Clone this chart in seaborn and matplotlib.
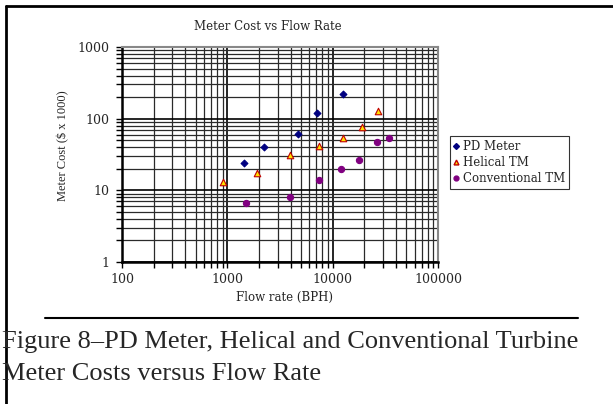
import numpy as np
import pandas as pd
import matplotlib
matplotlib.use("Agg")
from matplotlib import pyplot as plt
from matplotlib.lines import Line2D
import seaborn as sns

# values (flow in BPH, cost in $ x 1000)
pd_flow = [1450, 2250, 4700, 7100, 12500]
pd_cost = [24, 40, 62, 121, 224]

hel_flow = [900, 1900, 3950, 7400, 12500, 19000, 26700]
hel_cost = [13.2, 17.7, 31, 42, 54, 77, 127]

conv_flow = [1500, 3950, 7400, 11900, 17800, 26500, 34500]
conv_cost = [6.7, 8.1, 13.8, 20, 26.6, 47, 54]

series = ["PD Meter", "Helical TM", "Conventional TM"]

df = pd.concat([
    pd.DataFrame({"flow": pd_flow, "cost": pd_cost, "meter": series[0]}),
    pd.DataFrame({"flow": hel_flow, "cost": hel_cost, "meter": series[1]}),
    pd.DataFrame({"flow": conv_flow, "cost": conv_cost, "meter": series[2]}),
])

sns.set_style("white")
plt.rcParams["font.family"] = ["DejaVu Serif"]

fig = plt.figure(figsize=(6.13, 4.04), dpi=100)
ax = fig.add_axes([122 / 613, 1 - 262 / 404, 316 / 613, 215 / 404])

styles = {
    "PD Meter": dict(marker="D", color="#000080", edgecolor="#000080", s=12),
    "Helical TM": dict(marker="^", color="#FFE000", edgecolor="#C00000", s=22),
    "Conventional TM": dict(marker="o", color="#800080", edgecolor="#800080", s=20),
}
for name in series:
    st = styles[name]
    sns.scatterplot(data=df[df["meter"] == name], x="flow", y="cost", ax=ax,
                    marker=st["marker"], color=st["color"], edgecolor=st["edgecolor"],
                    s=st["s"], linewidth=0.8, zorder=5, legend=False)

ax.set_xscale("log")
ax.set_yscale("log")
ax.set_xlim(100, 100000)
ax.set_ylim(1, 1000)

ax.grid(True, which="major", color="black", linewidth=1.2)
ax.grid(True, which="minor", color="#2a2a2a", linewidth=0.9)
ax.set_axisbelow(True)

ax.set_xticks([100, 1000, 10000, 100000])
ax.set_xticklabels(["100", "1000", "10000", "100000"])
ax.set_yticks([1, 10, 100, 1000])
ax.set_yticklabels(["1", "10", "100", "1000"])
ax.tick_params(axis="both", which="both", direction="out", length=4, width=1,
               color="black", labelsize=9, bottom=True, left=True)
ax.tick_params(axis="y", pad=5)
ax.tick_params(axis="x", pad=4)

for side in ["left", "bottom"]:
    ax.spines[side].set_color("black")
    ax.spines[side].set_linewidth(1.8)
for side in ["top", "right"]:
    ax.spines[side].set_color("#888888")
    ax.spines[side].set_linewidth(1.5)

ax.set_xlabel("")
ax.set_ylabel("")
fig.text(284 / 613, 1 - 297 / 404, "Flow rate (BPH)", ha="center", va="center", fontsize=8.5)
fig.text(63 / 613, 1 - 146 / 404, "Meter Cost ($ x 1000)", ha="center", va="center",
         rotation=90, fontsize=9, family="Liberation Serif")
fig.text(268 / 613, 1 - 27 / 404, "Meter Cost vs Flow Rate", ha="center", va="center",
         fontsize=8.5)

handles = [Line2D([], [], linestyle="none", marker=styles[n]["marker"],
                  markerfacecolor=styles[n]["color"], markeredgecolor=styles[n]["edgecolor"],
                  markersize=3.5 if n != "PD Meter" else 3, label=n) for n in series]
leg = fig.legend(handles=handles, loc="upper left", bbox_to_anchor=(450 / 613, 1 - 136 / 404),
                 fontsize=8.5, frameon=True, fancybox=False, handlelength=0.4,
                 handletextpad=0.35, borderpad=0.35, borderaxespad=0, labelspacing=0.25)
leg.get_frame().set_edgecolor("black")
leg.get_frame().set_linewidth(0.8)

# document frame and caption around the chart
fig.add_artist(Line2D([6 / 613, 6 / 613], [0, 1 - 6 / 404], color="black", linewidth=2,
                      transform=fig.transFigure))
fig.add_artist(Line2D([6 / 613, 1], [1 - 6 / 404, 1 - 6 / 404], color="black", linewidth=2,
                      transform=fig.transFigure))
fig.add_artist(Line2D([45 / 613, 578 / 613], [1 - 318 / 404, 1 - 318 / 404], color="black",
                      linewidth=1.5, transform=fig.transFigure))
fig.text(2 / 613, 1 - 348 / 404, "Figure 8\u2013PD Meter, Helical and Conventional Turbine",
         ha="left", va="baseline", fontsize=19, family="Liberation Serif")
fig.text(2 / 613, 1 - 380 / 404, "Meter Costs versus Flow Rate", ha="left", va="baseline",
         fontsize=19, family="Liberation Serif")

fig.savefig("out.png", dpi=100)
